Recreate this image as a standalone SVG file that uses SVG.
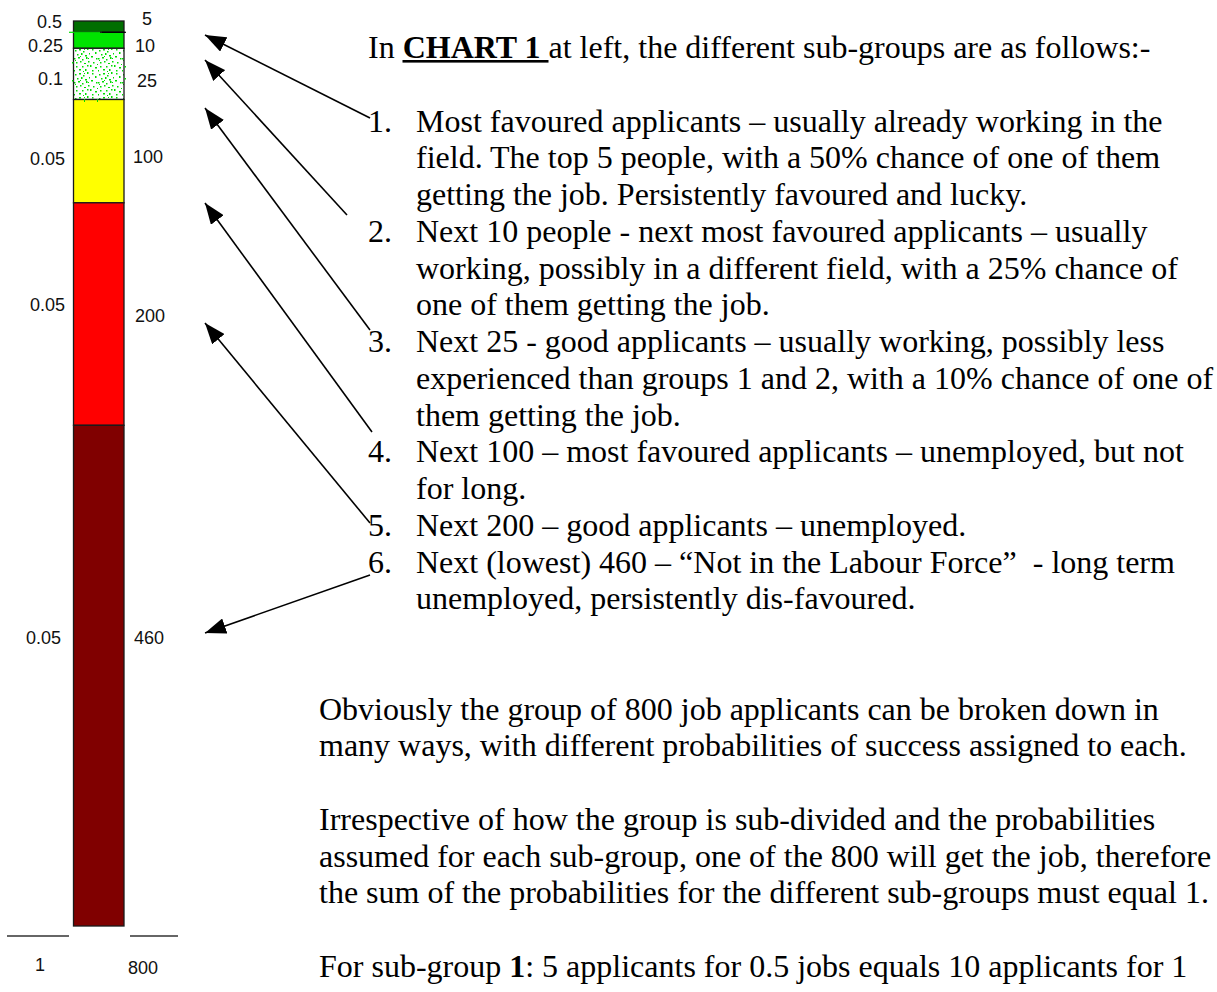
<svg xmlns="http://www.w3.org/2000/svg" width="1217" height="992" viewBox="0 0 1217 992">
<defs>
<style>
.lab{font-family:"Liberation Sans",Arial,sans-serif;font-size:18px;fill:#111}
.e{text-anchor:end}
.t{font-family:"Liberation Serif","Times New Roman",serif;font-size:32px;fill:#000;white-space:pre}
.b{font-weight:bold}
.seg{stroke:#1a1a1a;stroke-width:1.3}
.conn{stroke:#000;stroke-width:1.6;fill:none;marker-end:url(#ah)}
.tick{stroke:#333;stroke-width:1.6}
</style>
<marker id="ah" viewBox="0 0 21 16" refX="21" refY="8" markerWidth="21" markerHeight="16" markerUnits="userSpaceOnUse" orient="auto"><path d="M0,0 L21,8 L0,16 Z" fill="#000"/></marker>
<pattern id="dots" width="24" height="24" patternUnits="userSpaceOnUse" x="74" y="48">
<rect width="24" height="24" fill="#fff"/>
<g fill="#00dd00">
<rect x="1" y="2" width="1.5" height="1.5"/><rect x="5" y="1" width="2" height="1.5"/><rect x="9" y="3" width="1.5" height="1.5"/><rect x="13" y="0" width="1.5" height="2"/>
<rect x="3" y="6" width="1.5" height="1.5"/><rect x="7" y="5" width="1.5" height="2"/><rect x="11" y="7" width="2" height="1.5"/><rect x="15" y="5" width="1" height="1.5"/>
<rect x="0" y="10" width="1.5" height="1.5"/><rect x="4" y="9" width="2" height="1.5"/><rect x="8" y="11" width="1.5" height="1.5"/><rect x="12" y="9" width="1.5" height="2"/>
<rect x="2" y="14" width="1.5" height="1.5"/><rect x="6" y="13" width="1.5" height="1.5"/><rect x="10" y="15" width="2" height="1"/><rect x="14" y="13" width="1.5" height="1.5"/>
<rect x="6" y="8" width="1" height="1"/><rect x="10" y="1" width="1" height="1"/><rect x="14" y="10" width="1" height="1"/><rect x="1" y="12" width="1" height="1"/>
<rect x="18" y="1" width="1.5" height="1.5"/><rect x="21" y="4" width="1.5" height="2"/><rect x="17" y="8" width="2" height="1.5"/><rect x="22" y="10" width="1.5" height="1.5"/>
<rect x="19" y="14" width="1.5" height="1.5"/><rect x="16" y="17" width="1.5" height="2"/><rect x="21" y="19" width="2" height="1.5"/><rect x="18" y="22" width="1.5" height="1.5"/>
<rect x="2" y="18" width="1.5" height="1.5"/><rect x="5" y="21" width="2" height="1.5"/><rect x="8" y="18" width="1.5" height="1.5"/><rect x="11" y="21" width="1.5" height="2"/>
<rect x="13" y="17" width="1.5" height="1.5"/><rect x="0" y="22" width="1" height="1.5"/><rect x="9" y="23" width="1" height="1"/><rect x="23" y="16" width="1" height="1"/>
</g>
</pattern>
</defs>
<rect width="1217" height="992" fill="#fff"/>

<g id="chart">
<rect class="seg" x="73.5" y="21" width="50.5" height="11.3" fill="#006e00"/>
<rect class="seg" x="73.5" y="32.3" width="50.5" height="16" fill="#00e400"/>
<rect class="seg" x="73.5" y="48.3" width="50.5" height="51.2" fill="url(#dots)"/>
<rect class="seg" x="73.5" y="99.5" width="50.5" height="103.3" fill="#ffff00"/>
<rect class="seg" x="73.5" y="202.8" width="50.5" height="222.5" fill="#ff0000"/>
<rect class="seg" x="73.5" y="425.3" width="50.5" height="500.7" fill="#800000"/>
<line x1="69" y1="32.3" x2="100" y2="32.3" stroke="#00e400" stroke-width="1.2"/>
<line x1="102" y1="32.3" x2="126" y2="32.3" stroke="#000" stroke-width="1.2"/>
<g fill="#00dd00">
<rect x="72" y="62" width="1.5" height="1.5"/><rect x="72" y="80" width="1.5" height="1.5"/><rect x="124.5" y="66" width="1.5" height="1.5"/><rect x="124.5" y="78" width="1.5" height="1.5"/><rect x="84" y="99" width="1" height="3"/><rect x="97" y="99" width="1" height="3"/>
</g>
<line class="tick" x1="7" y1="936" x2="69" y2="936"/>
<line class="tick" x1="130" y1="936" x2="178" y2="936"/>
</g>

<g id="chart-labels">
<text class="lab e" x="62" y="28">0.5</text>
<text class="lab e" x="63" y="52">0.25</text>
<text class="lab e" x="63" y="85">0.1</text>
<text class="lab e" x="65" y="165">0.05</text>
<text class="lab e" x="65" y="311">0.05</text>
<text class="lab e" x="61" y="644">0.05</text>
<text class="lab" x="142" y="25">5</text>
<text class="lab" x="135" y="52">10</text>
<text class="lab" x="137" y="87">25</text>
<text class="lab" x="133" y="163">100</text>
<text class="lab" x="135" y="322">200</text>
<text class="lab" x="134" y="644">460</text>
<text class="lab" x="35" y="971">1</text>
<text class="lab" x="128" y="974">800</text>
</g>

<g id="connectors">
<line class="conn" x1="370" y1="118" x2="205" y2="35"/>
<line class="conn" x1="347" y1="215" x2="205" y2="60"/>
<line class="conn" x1="370" y1="330" x2="205" y2="108"/>
<line class="conn" x1="372" y1="432" x2="205" y2="203"/>
<line class="conn" x1="370" y1="523" x2="205" y2="323"/>
<line class="conn" x1="370" y1="575" x2="205" y2="633"/>
</g>

<g id="heading">
<text class="t" x="368" y="58">In <tspan class="b">CHART 1 </tspan>at left, the different sub-groups are as follows:-</text>
<rect x="402.5" y="60" width="146" height="2.6" fill="#000"/>
</g>

<g id="item1">
<text class="t" x="368" y="131.5">1.</text>
<text class="t" x="416" y="131.5">Most favoured applicants – usually already working in the</text>
<text class="t" x="416" y="168.25">field. The top 5 people, with a 50% chance of one of them</text>
<text class="t" x="416" y="205">getting the job. Persistently favoured and lucky.</text>
</g>
<g id="item2">
<text class="t" x="368" y="241.75">2.</text>
<text class="t" x="416" y="241.75">Next 10 people - next most favoured applicants – usually</text>
<text class="t" x="416" y="278.5">working, possibly in a different field, with a 25% chance of</text>
<text class="t" x="416" y="315.25">one of them getting the job.</text>
</g>
<g id="item3">
<text class="t" x="368" y="352">3.</text>
<text class="t" x="416" y="352">Next 25 - good applicants – usually working, possibly less</text>
<text class="t" x="416" y="388.75">experienced than groups 1 and 2, with a 10% chance of one of</text>
<text class="t" x="416" y="425.5">them getting the job.</text>
</g>
<g id="item4">
<text class="t" x="368" y="462.25">4.</text>
<text class="t" x="416" y="462.25">Next 100 – most favoured applicants – unemployed, but not</text>
<text class="t" x="416" y="499">for long.</text>
</g>
<g id="item5">
<text class="t" x="368" y="535.75">5.</text>
<text class="t" x="416" y="535.75">Next 200 – good applicants – unemployed.</text>
</g>
<g id="item6">
<text class="t" x="368" y="572.5">6.</text>
<text class="t" x="416" y="572.5">Next (lowest) 460 – “Not in the Labour Force”  - long term</text>
<text class="t" x="416" y="609.25">unemployed, persistently dis-favoured.</text>
</g>

<g id="paragraphs">
<text class="t" x="319" y="719.5">Obviously the group of 800 job applicants can be broken down in</text>
<text class="t" x="319" y="756.25">many ways, with different probabilities of success assigned to each.</text>
<text class="t" x="319" y="829.75">Irrespective of how the group is sub-divided and the probabilities</text>
<text class="t" x="319" y="866.5">assumed for each sub-group, one of the 800 will get the job, therefore</text>
<text class="t" x="319" y="903.25">the sum of the probabilities for the different sub-groups must equal 1.</text>
<text class="t" x="319" y="976.5">For sub-group <tspan class="b">1</tspan>: 5 applicants for 0.5 jobs equals 10 applicants for 1</text>
</g>
</svg>
